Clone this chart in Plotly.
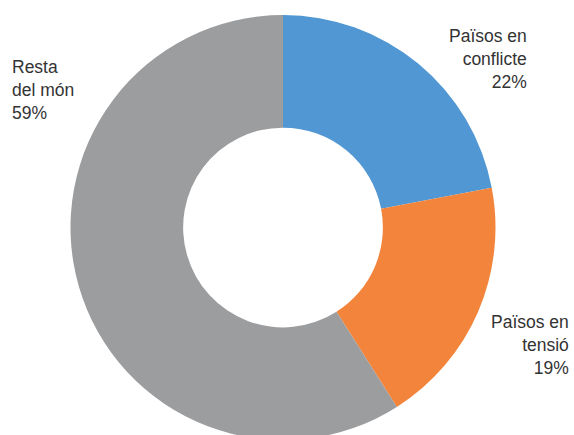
import plotly.graph_objects as go

labels = ["Països en conflicte", "Països en tensió", "Resta del món"]
values = [22, 19, 59]
colors = ["#5097D3", "#F3843B", "#9C9D9F"]
label_texts = ["Països en<br>conflicte<br>22%", "Països en<br>tensió<br>19%", "Resta<br>del món<br>59%"]

W, H = 574, 440
cx, r_top = 283, 15

fig = go.Figure(go.Pie(
    labels=labels, values=values, sort=False, direction="clockwise", rotation=0,
    hole=0.47, marker=dict(colors=colors, line=dict(width=0)),
    textinfo="none", hoverinfo="label+percent", showlegend=False,
    domain=dict(x=[(cx - 260) / W, (cx + 260) / W], y=[0, 1 - r_top / H]),
))

ann_pos = [(529, 24, "right"), (571, 310, "right"), (10, 55, "left")]
for txt, (x, y, anc) in zip(label_texts, ann_pos):
    fig.add_annotation(x=x / W, y=1 - y / H, xref="paper", yref="paper",
                       text=txt, showarrow=False, xanchor=anc, yanchor="top",
                       align=anc, font=dict(family="Liberation Sans, Arial", size=17.5, color="#333333"))

fig.update_layout(width=W, height=H, margin=dict(l=0, r=0, t=0, b=0),
                  paper_bgcolor="white", plot_bgcolor="white")
fig.write_html("out.html", config={"displayModeBar": False},
               post_script="document.body.style.margin='0';document.body.style.overflow='hidden';")
